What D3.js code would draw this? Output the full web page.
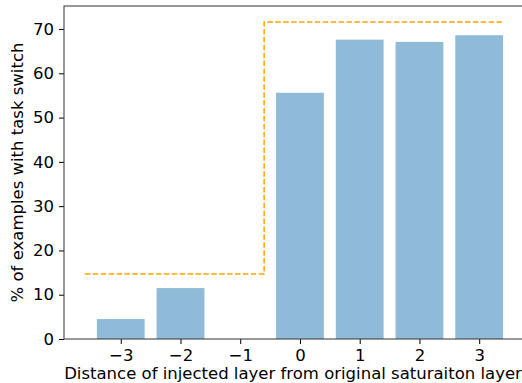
<!DOCTYPE html>
<html>
<head>
<meta charset="utf-8">
<script src="https://cdn.jsdelivr.net/npm/d3@7"></script>
<style>
  body { margin: 0; background: #fff; }
  svg { font-family: "DejaVu Sans", sans-serif; }
</style>
</head>
<body>
<svg id="chart" width="522" height="383"></svg>
<script>
// data
const distances = [-3, -2, -1, 0, 1, 2, 3];
const pctSwitch = [4.5, 11.5, 0, 55.6, 67.6, 67.1, 68.6];
const stepX = [-3.6, -0.6, -0.6, 3.4];
const stepY = [14.7, 14.7, 71.6, 71.6];
const yTicks = [0, 10, 20, 30, 40, 50, 60, 70];

const svg = d3.select('#chart');
const margin = { top: 6, right: -2, bottom: 44, left: 64 };
const width = 522, height = 383;

const x = d3.scaleLinear().domain([-3.95, 3.75]).range([margin.left, width - margin.right]);
const y = d3.scaleLinear().domain([0, 75.2]).range([height - margin.bottom, margin.top]);

const barW = 0.8;

// bars
svg.append('g')
    .selectAll('rect')
    .data(distances.map((d, i) => ({ d, v: pctSwitch[i] })))
    .join('rect')
    .attr('x', p => x(p.d - barW / 2))
    .attr('width', x(barW) - x(0))
    .attr('y', p => y(p.v))
    .attr('height', p => y(0) - y(p.v))
    .attr('fill', '#8fbbd9');

// dashed step line
const line = d3.line().x(d => x(d[0])).y(d => y(d[1]));
svg.append('path')
    .attr('d', line(stepX.map((v, i) => [v, stepY[i]])))
    .attr('fill', 'none')
    .attr('stroke', 'orange')
    .attr('stroke-width', 1.5)
    .attr('stroke-dasharray', '5.5,2.4');

// axes
const xAxis = svg.append('g')
    .attr('transform', `translate(0,${y(0)})`)
    .call(d3.axisBottom(x).tickValues(distances).tickSize(5).tickPadding(5)
        .tickFormat(d => d < 0 ? '\u2212' + Math.abs(d) : d));

const yAxis = svg.append('g')
    .attr('transform', `translate(${margin.left},0)`)
    .call(d3.axisLeft(y).tickValues(yTicks).tickSize(5).tickPadding(5));

[xAxis, yAxis].forEach(g => {
    g.selectAll('text').attr('font-size', 16.5).attr('fill', '#000').attr('font-family', '"DejaVu Sans", sans-serif');
    g.selectAll('line').attr('stroke', '#000');
    g.select('.domain').remove();
});

// spines
svg.append('rect')
    .attr('x', margin.left)
    .attr('y', margin.top)
    .attr('width', x(3.75) - margin.left)
    .attr('height', y(0) - margin.top)
    .attr('fill', 'none')
    .attr('stroke', '#333')
    .attr('stroke-width', 1);

// labels
svg.append('text')
    .attr('x', 293)
    .attr('y', 379)
    .attr('text-anchor', 'middle')
    .attr('font-size', 16.5)
    .text('Distance of injected layer from original saturaiton layer');

svg.append('text')
    .attr('transform', `translate(23,${(margin.top + y(0)) / 2}) rotate(-90)`)
    .attr('text-anchor', 'middle')
    .attr('font-size', 16.5)
    .text('% of examples with task switch');
</script>
</body>
</html>
